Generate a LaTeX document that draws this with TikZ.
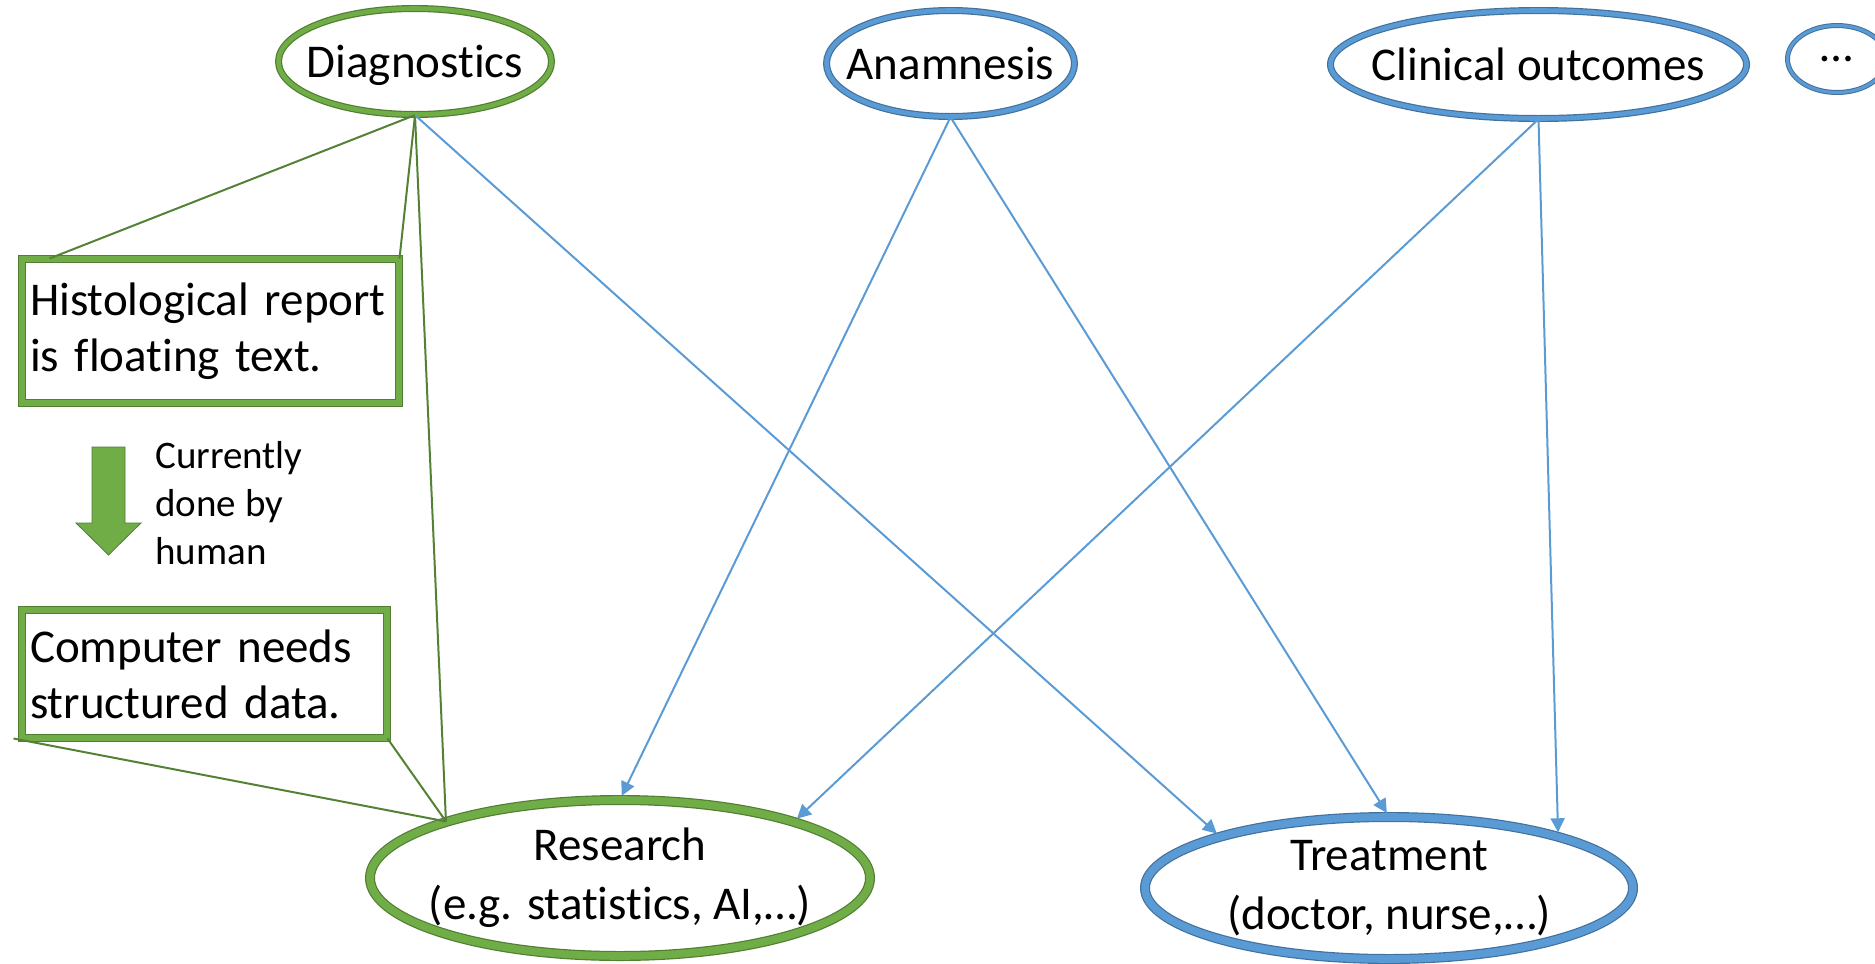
\documentclass[tikz,border=0pt]{standalone}
\usepackage{fontspec}
\setmainfont{Carlito}[Ligatures=NoCommon]
\usetikzlibrary{arrows.meta}
\usetikzlibrary{shapes.geometric}
\definecolor{greenfill}{HTML}{70AD47}
\definecolor{greenedge}{HTML}{507E32}
\definecolor{greenline}{HTML}{548235}
\definecolor{bluefill}{HTML}{5B9BD5}
\definecolor{blueedge}{HTML}{41719C}

\begin{document}
\begin{tikzpicture}[x=0.5pt,y=-0.5pt]
      \tikzstyle greenoval=[ellipse, draw=greenedge, line width=0.6pt,
      double=greenfill, double distance=2.3pt, fill=white, inner xsep=-14pt,
      inner ysep=0pt, align=center, font=\fontsize{23.5pt}{29.5pt}\selectfont]
      \tikzstyle blueoval=[greenoval, draw=blueedge, double=bluefill]
      \tikzstyle greenbox=[rectangle, draw=greenedge, line width=0.5pt,
      double=greenfill, double distance=3pt, fill=white, align=left,
      inner xsep=4pt, font=\fontsize{23.5pt}{28pt}\selectfont]
      \tikzstyle greenlink=[draw=greenline, line width=1pt]
      \tikzstyle bluearrow=[draw=bluefill, line width=1pt,
      -{Triangle[length=7pt,width=7pt]}, shorten >=2pt]
      \useasboundingbox (0,0) rectangle (1875,964);
      \node [greenoval, text depth=0pt, minimum width=136.5pt, minimum height=53pt] (diag) at (415,61.5) {Diagnostics};
      \node [blueoval, minimum width=124pt, minimum height=53pt] (anam) at (950.5,63.5) {Anamnesis};
      \node [blueoval, minimum width=208pt, minimum height=54pt] (clin) at (1538.5,64.5) {Clinical outcomes};
      \node [blueoval, line width=0.5pt, double distance=1.5pt, minimum width=49.5pt, minimum height=33.5pt] (more) at (1837,59) {…};
      \node [greenoval, double distance=3.8pt, minimum width=250pt, minimum height=78pt] (research) at (620,878) {Research\\(e.g. statistics, AI,…)};
      \node [blueoval, double distance=3.8pt, minimum width=244pt, minimum height=71pt] (treat) at (1389,888) {Treatment\\(doctor, nurse,…)};
      \node [greenbox, text width=180.5pt, minimum height=72pt] (report) at (210.5,331) {Histological report\\is floating text.};
      \node [greenbox, text width=174.5pt, minimum height=64pt] (structured) at (204.5,674) {Computer needs\\structured data.};
      \filldraw [fill=greenfill, draw=greenedge, line width=0.4pt] (92,447) -- (125,447) -- (125,523) -- (141,523)
        -- (108.5,555) -- (76,523) -- (92,523) -- cycle;
      \node [anchor=west, align=left, inner sep=0pt, font=\fontsize{19.5pt}{24pt}\selectfont] (human) at (155,503) {Currently\\done by\\human};
      \draw [greenlink] (diag.south) -- ([xshift=14pt]report.north west);
      \draw [greenlink] (diag.south) -- (report.north east);
      \draw [greenlink] (diag.south) -- (research.162);
      \draw [greenlink] ([xshift=-4pt]structured.south west) -- (research.162);
      \draw [greenlink] (structured.south east) -- (research.162);
      \draw [bluearrow] (diag.south) -- (treat.163);
      \draw [bluearrow] (anam.south) -- (research.north);
      \draw [bluearrow] (anam.south) -- (treat.north);
      \draw [bluearrow] (clin.south) -- (research.18);
      \draw [bluearrow] (clin.south) -- (treat.17);
    \end{tikzpicture}
\end{document}
